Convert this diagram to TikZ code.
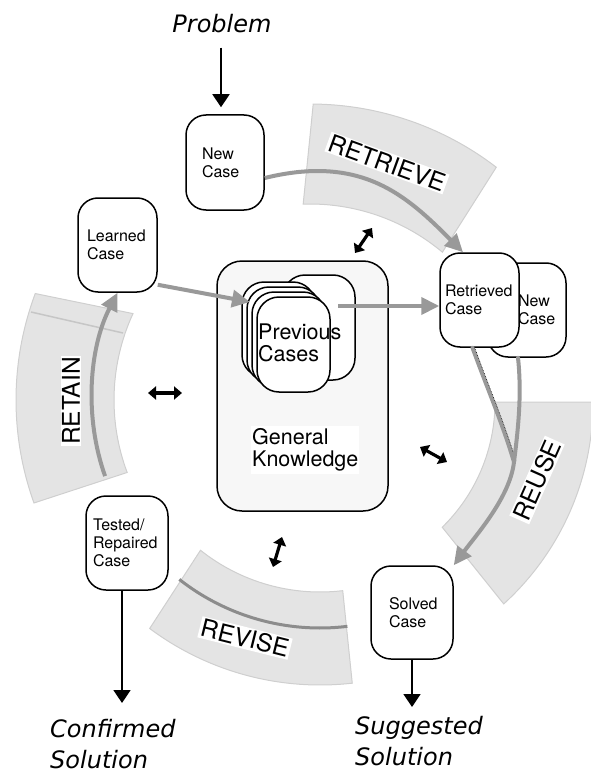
\documentclass[tikz,border=0pt]{standalone}
\usepackage{fontspec}
\setmainfont{TeX Gyre Heros}
\newfontfamily\dejafont{DejaVu Sans}
\usetikzlibrary{arrows.meta,calc}
\definecolor{bandgray}{HTML}{E4E4E4}
\definecolor{bandedge}{HTML}{CFCFCF}
\definecolor{retline}{HTML}{C6C6C6}
\definecolor{flowgray}{HTML}{999999}
\definecolor{revgray}{HTML}{8C8C8C}
\definecolor{gkfill}{HTML}{F7F7F7}
\begin{document}
\begin{tikzpicture}[x=1pt,y=-1pt,
  cbox/.style={draw=black, line width=1.5pt, rounded corners=20pt, fill=white, align=left,
    font=\fontsize{16}{18}\selectfont},
  pcbox/.style={draw=black, line width=1.5pt, rounded corners=22pt, fill=white,
    minimum width=73pt, minimum height=95pt, inner sep=0pt},
  flowline/.style={draw=flowgray, line width=4pt, line cap=round},
  flowarrow/.style={draw=flowgray, line width=4pt, -{Triangle[length=18pt,width=17pt]}},
  blkarrow/.style={line width=1.5pt, -{Triangle[length=13pt,width=17pt]}},
  dbl/.style={line width=3.2pt, {Triangle[length=8pt,width=13pt]}-{Triangle[length=8pt,width=13pt]}},
  bandfill/.style={fill=bandgray, draw=bandedge, line width=1pt},
  bandlabel/.style={fill=white, inner sep=1.5pt, font=\fontsize{24.5}{26}\selectfont},
  outlabel/.style={font=\dejafont\itshape\fontsize{24}{31}\selectfont, align=left, inner sep=0pt},
  bigtext/.style={font=\fontsize{21.5}{22}\selectfont, align=left}
]
\useasboundingbox (0,0) rectangle (590,773);
\coordinate (C) at (320,400);
\coordinate (C2) at (310,410);
\coordinate (C3) at (320,402);

% ---- bands ----
\path[bandfill] ($(C2)+(-89.4:306)$) arc[start angle=-89.4,end angle=-52.5,radius=306]
  -- ($(C2)+(-50:206)$) arc[start angle=-50,end angle=-91.9,radius=206] -- cycle;
\path[bandfill] ($(C)+(-159.5:304)$) arc[start angle=-159.5,end angle=-199.8,radius=304]
  -- ($(C)+(-200.6:206)$) arc[start angle=-200.6,end angle=-155.2,radius=206] -- cycle;
\path[bandfill] ($(C3)+(0:273)$) arc[start angle=0,end angle=47.7,radius=273]
  -- ($(C3)+(45.7:175)$) arc[start angle=45.7,end angle=0,radius=175] -- cycle;
\path[bandfill] ($(C)+(126.7:285)$) arc[start angle=126.7,end angle=83.5,radius=285]
  -- ($(C)+(83.2:192)$) arc[start angle=83.2,end angle=128.5,radius=192] -- cycle;
\draw[retline, line width=1.5pt] (31,312) -- (123,333);
\draw[revgray, line width=3pt] ($(C)+(128.1:228)$) arc[start angle=128.1,end angle=83.1,radius=228];

% ---- band labels ----
\node[bandlabel, rotate=-20] (lretrieve) at (387,163) {RETRIEVE};
\node[bandlabel, rotate=90] (lretain) at (71,401) {RETAIN};
\node[bandlabel, rotate=66] (lreuse) at (537,480) {REUSE};
\node[bandlabel, rotate=-14] (lrevise) at (245,638) {REVISE};

% ---- general knowledge ----
\node[draw=black, line width=1.5pt, rounded corners=25pt, fill=gkfill,
  minimum width=171pt, minimum height=250pt, inner sep=0pt] (gk) at (302.5,386) {};
\node[pcbox, minimum width=72pt, minimum height=105pt] (pcback) at (319,327.5) {};
\node[pcbox] (pc0) at (278.5,329.5) {};
\node[pcbox] (pc1) at (283.5,334.5) {};
\node[pcbox] (pc2) at (288.5,339.5) {};
\node[pcbox] (pc3) at (293.5,344.5) {};
\node[bigtext, anchor=west, inner sep=1pt] (pctext) at (257,343) {Previous\\Cases};
\node[bigtext, anchor=west, fill=white, inner xsep=1pt, inner ysep=3pt] (gktext) at (251,450) {General\\Knowledge};

% ---- case boxes ----
\node[cbox, minimum width=78pt, minimum height=95pt, text width=46pt, inner xsep=16pt] (newcase) at (225,162.5) {\mbox{New}\\\mbox{Case}};
\node[cbox, minimum width=79pt, minimum height=94pt, text width=61pt, inner xsep=9pt] (learned) at (117.5,245) {\mbox{Learned}\\\mbox{Case}};
\node[cbox, minimum width=78pt, minimum height=94pt, text width=46pt, inner xsep=16pt] (newcase2) at (527,310) {\hspace*{14pt}\mbox{New}\\\hspace*{14pt}\mbox{Case}};
\node[cbox, minimum width=79pt, minimum height=94pt, text width=69pt, inner xsep=5pt] (retrieved) at (479.5,300) {\mbox{Retrieved}\\\mbox{Case}};
\node[cbox, minimum width=82pt, minimum height=93pt, text width=46pt, inner xsep=18pt] (solved) at (412,612.5) {\mbox{Solved}\\\mbox{Case}};
\node[cbox, minimum width=82pt, minimum height=94pt, text width=68pt, inner xsep=7pt] (tested) at (127,543) {\mbox{Tested/}\\\mbox{Repaired}\\\mbox{Case}};

% ---- outside labels ----
\node[outlabel, anchor=base] (problem) at (222,33) {Problem};
\node[outlabel, anchor=north west] (confirmed) at (50,719) {Confirmed\\Solution};
\node[outlabel, anchor=north west] (sugg) at (355,716) {Suggested\\Solution};

% ---- black arrows ----
\draw[blkarrow] ($(problem.south)+(-1,14)$) -- ($(problem.south |- newcase.north)+(-1,-7)$);
\draw[blkarrow] ($(tested.south)+(-5,0)$) -- ($(tested.south |- confirmed.north)+(-5,-16)$);
\draw[blkarrow] (solved.south) -- ($(solved.south |- sugg.north)+(0,-9)$);

% ---- flow arrows ----
\coordinate (retainstart) at ($(C)+(160.5:228)$);
\draw[flowarrow] (retainstart) .. controls (84,417) and (89,348) .. (learned.south);
\draw[flowarrow] ([yshift=-15.5pt]newcase.east) .. controls (362,154) and (407,196) .. ([xshift=-16.5pt]retrieved.north);
\coordinate (pcin) at (250,302);
\draw[flowarrow] ([yshift=8pt]learned.south east) -- (pcin);
\coordinate (pcout) at (338,306);
\draw[flowarrow] (pcout) -- (pcout -| retrieved.west);
\coordinate (M) at (514,462);
\draw[flowline] ([xshift=-7pt]retrieved.south) .. controls (489,393) and (502,422) .. (M);
\draw[black, densely dotted, line width=0.6pt, transform canvas={xshift=2.2pt}] ([xshift=-7pt]retrieved.south) .. controls (489,393) and (502,422) .. (M);
\draw[flowline] ([xshift=-9pt]newcase2.south) .. controls (522,395) and (518,430) .. (M);
\draw[flowarrow] (M) .. controls (510,497) and (477,534) .. (solved.north east);

% ---- double arrows ----
\coordinate (d1a) at (355,253); \coordinate (d1b) at (372,228);
\coordinate (d2a) at (148,393); \coordinate (d2b) at (182,393);
\coordinate (d3a) at (420,447); \coordinate (d3b) at (447,462);
\coordinate (d4a) at (282,537); \coordinate (d4b) at (273,567);
\draw[dbl] (d1a) -- (d1b);
\draw[dbl] (d2a) -- (d2b);
\draw[dbl] (d3a) -- (d3b);
\draw[dbl] (d4a) -- (d4b);
\end{tikzpicture}
\end{document}
